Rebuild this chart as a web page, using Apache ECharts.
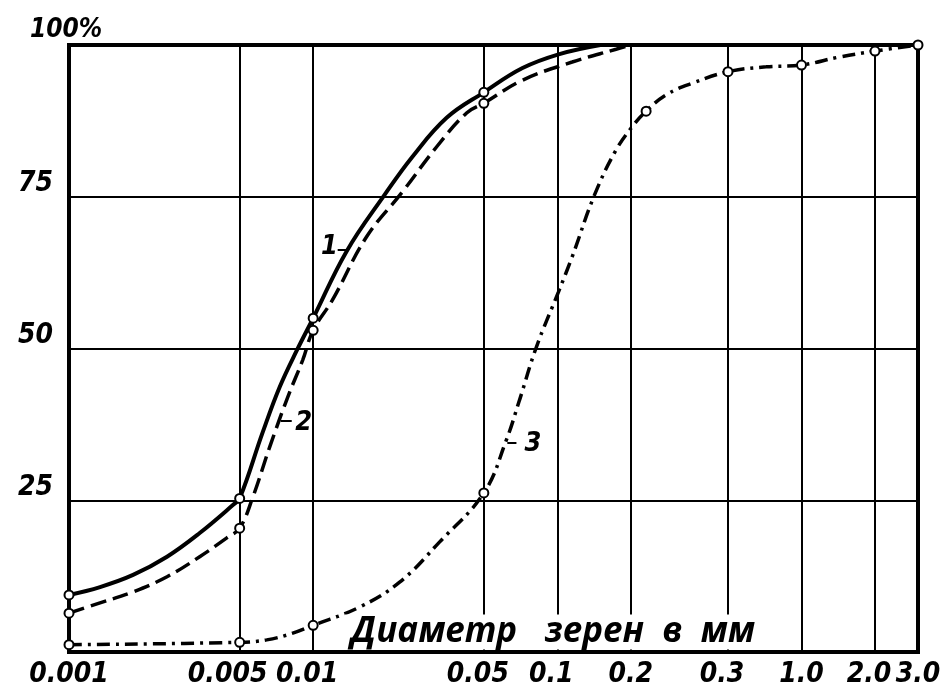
<!DOCTYPE html>
<html><head><meta charset="utf-8">
<script src="https://cdn.jsdelivr.net/npm/echarts@6/dist/echarts.min.js"></script>
<style>html,body{margin:0;padding:0;background:#fff}#c{width:951px;height:689px}</style>
</head><body><div id="c"></div>
<script>
// x axis: grain diameter (mm), logarithmic
const xTickValues = [0.001, 0.005, 0.01, 0.05, 0.1, 0.2, 0.5, 1, 2, 3];
const xTickLabels = ['0.001', '0.005', '0.01', '0.05', '0.1', '0.2', '0.3', '1.0', '2.0', '3.0'];
const yTickValues = [0, 25, 50, 75, 100];
const yTickLabels = ['', '25', '50', '75', '100%'];
const xAxisTitle = 'Диаметр   зерен  в  мм';

// curve 1 (solid)
const curve1D = [0.001, 0.00134, 0.00183, 0.00252, 0.00343, 0.00469, 0.005, 0.0062, 0.0073, 0.0086, 0.01, 0.0137, 0.0196, 0.0255, 0.0352, 0.05, 0.072, 0.102, 0.15];
const curve1P = [9.4, 10.7, 12.7, 15.7, 19.6, 24.2, 25.3, 36.1, 43.7, 49.8, 55.0, 66.0, 75.3, 81.6, 88.0, 92.2, 96.2, 98.5, 100];
const curve1Marks = [0.001, 0.005, 0.01, 0.05];

// curve 2 (dashed)
const curve2D = [0.001, 0.00134, 0.00183, 0.00252, 0.00343, 0.00443, 0.005, 0.00566, 0.00664, 0.00787, 0.00906, 0.01, 0.012, 0.01655, 0.0232, 0.032, 0.0425, 0.05, 0.072, 0.115, 0.174, 0.2];
const curve2P = [6.4, 8.1, 9.9, 12.4, 15.7, 18.8, 20.4, 25.5, 33.8, 42.0, 48.1, 53.0, 58.0, 68.4, 75.8, 83.2, 88.8, 90.4, 94.2, 97.2, 99.3, 100];
const curve2Marks = [0.001, 0.005, 0.01, 0.05];

// curve 3 (dash-dot)
const curve3D = [0.001, 0.005, 0.00645, 0.00825, 0.01, 0.0155, 0.0226, 0.0329, 0.05, 0.0618, 0.070, 0.082, 0.101, 0.115, 0.142, 0.174, 0.205, 0.231, 0.279, 0.357, 0.5, 0.716, 1, 1.42, 2, 3];
const curve3P = [1.2, 1.6, 2.0, 3.1, 4.4, 7.4, 11.5, 18.1, 26.2, 34.9, 41.5, 50.2, 59.3, 65.1, 75.3, 82.7, 86.8, 89.1, 91.8, 93.7, 95.6, 96.4, 96.7, 98.0, 99.0, 100];
const curve3Marks = [0.001, 0.005, 0.01, 0.05, 0.231, 0.5, 1, 2, 3];

// curve number labels with their short leader strokes (data units)
const curveNames = ['1', '2', '3'];
const nameD = [0.01165, 0.00915, 0.0795];
const nameP = [66.8, 37.8, 34.2];
const leaderFromD = [0.0126, 0.00736, 0.0624];
const leaderToD = [0.01397, 0.00817, 0.068];
const leaderP = [66.2, 38.1, 34.4];

const numFont = "'Liberation Sans Narrow', 'DejaVu Sans Condensed', 'Liberation Sans', sans-serif";
const titleFont = "'Open Sans', 'Noto Sans', sans-serif";

function build(ds, ps, marks) {
  return ds.map((d, i) => ({
    value: [d, ps[i]],
    symbol: marks.includes(d) ? 'circle' : 'none'
  }));
}
function annotation(i) {
  return {
    markPoint: {
      silent: true,
      symbol: 'circle', symbolSize: 1,
      itemStyle: { color: 'rgba(0,0,0,0)' },
      label: { show: true, position: 'inside', color: '#000', fontFamily: numFont, fontStyle: 'italic', fontWeight: 'bold', fontSize: 27, formatter: curveNames[i] },
      data: [{ coord: [nameD[i], nameP[i]] }]
    },
    markLine: {
      silent: true, symbol: ['none', 'none'],
      label: { show: false },
      lineStyle: { color: '#000', width: 2, type: 'solid' },
      emphasis: { disabled: true },
      data: [[{ coord: [leaderFromD[i], leaderP[i]] }, { coord: [leaderToD[i], leaderP[i]] }]]
    }
  };
}
const common = {
  type: 'line', smooth: 0.4, symbolSize: 9, clip: false,
  itemStyle: { color: '#fff', borderColor: '#000', borderWidth: 2 },
  emphasis: { disabled: true }, silent: true, z: 3
};
const numStyle = { fontFamily: numFont, fontStyle: 'italic', fontWeight: 'bold', fontSize: 28, color: '#000' };

const chart = echarts.init(document.getElementById('c'), null, { renderer: 'canvas' });
chart.setOption({
  animation: false,
  backgroundColor: '#fff',
  title: {
    text: xAxisTitle, left: 345, top: 615, padding: [0, 6, 0, 6], backgroundColor: '#fff', z: 10,
    textStyle: { fontFamily: titleFont, fontStyle: 'italic', fontWeight: 'bold', fontSize: 35, lineHeight: 34, color: '#000' }
  },
  grid: { left: 69, right: 33, top: 45, bottom: 37, show: true, borderColor: '#000', borderWidth: 4, backgroundColor: 'transparent' },
  xAxis: {
    type: 'log', logBase: 10, min: 0.001, max: 3,
    axisLine: { show: false },
    axisTick: { show: false, customValues: xTickValues },
    splitLine: { show: true, lineStyle: { color: '#000', width: 2 } },
    axisLabel: Object.assign({}, numStyle, {
      customValues: xTickValues, margin: 9, showMaxLabel: true, showMinLabel: true, hideOverlap: false,
      formatter: (v) => {
        const i = xTickValues.findIndex(t => Math.abs(Math.log10(t) - Math.log10(v)) < 1e-6);
        if (i < 0) return '';
        const t = xTickLabels[i];
        if (i === 1) return '{w|' + t + '}';
        if (i === 0 || i === 5 || i === 7 || i === 9) return '{p|' + t + '}';
        return '{s|' + t + '}';
      },
      rich: {
        p: Object.assign({}, numStyle),
        s: Object.assign({}, numStyle, { padding: [0, 0, 0, -12] }),
        w: Object.assign({}, numStyle, { padding: [0, 0, 0, -24] })
      }
    })
  },
  yAxis: {
    type: 'value', min: 0, max: 100, interval: 25,
    axisLine: { show: false }, axisTick: { show: false },
    splitLine: { show: true, lineStyle: { color: '#000', width: 2 } },
    axisLabel: Object.assign({}, numStyle, {
      margin: 51, align: 'left', verticalAlign: 'middle',
      formatter: (v) => {
        const i = yTickValues.indexOf(v);
        const t = i >= 0 ? yTickLabels[i] : '';
        return t === '' ? '' : (v === 100 ? '{h|' + t + '}' : '{n|' + t + '}');
      },
      rich: {
        n: Object.assign({}, numStyle, { padding: [0, 0, 26, 0] }),
        h: Object.assign({}, numStyle, { fontSize: 26, padding: [0, 0, 30, 12] })
      }
    })
  },
  series: [
    Object.assign({}, common, {
      name: '1', data: build(curve1D, curve1P, curve1Marks),
      lineStyle: { color: '#000', width: 4, type: 'solid' }
    }, annotation(0)),
    Object.assign({}, common, {
      name: '2', data: build(curve2D, curve2P, curve2Marks),
      lineStyle: { color: '#000', width: 3.5, type: [16, 7] }
    }, annotation(1)),
    Object.assign({}, common, {
      name: '3', data: build(curve3D, curve3P, curve3Marks),
      lineStyle: { color: '#000', width: 3.5, type: [13, 6, 3, 6] }
    }, annotation(2))
  ]
});
</script></body></html>
